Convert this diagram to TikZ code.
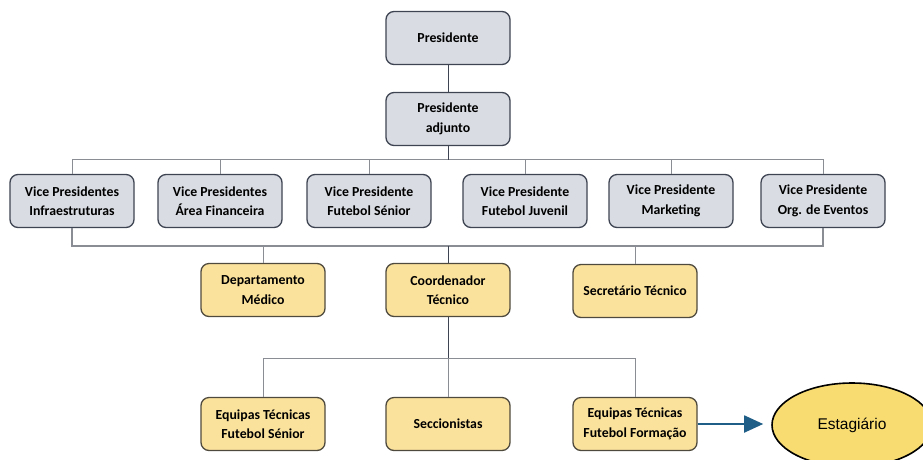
\documentclass[tikz,border=0pt]{standalone}
\usepackage{fontspec}
\setmainfont{Carlito}
\newfontfamily\arialfont{Liberation Sans}
\usetikzlibrary{positioning,shapes.geometric,arrows.meta}
\definecolor{boxgray}{HTML}{D9DCE2}
\definecolor{boxyellow}{HTML}{FBE29C}
\definecolor{edgegray}{HTML}{3E4452}
\definecolor{edgebrown}{HTML}{4F4A3E}
\definecolor{linegray}{HTML}{8A8D94}
\definecolor{linedark}{HTML}{3E4452}
\definecolor{arrowblue}{HTML}{1F5E86}
\definecolor{ovalyellow}{HTML}{F8DC72}
\tikzstyle{unit}                 = [draw=edgegray,fill=boxgray,rounded corners=8pt,
                                    line width=1.3pt,minimum width=124pt,minimum height=53pt,
                                    align=center,inner sep=0pt,
                                    font=\bfseries\fontsize{13.8}{19.5}\selectfont]
\tikzstyle{staff}                = [unit,draw=edgebrown,fill=boxyellow]
\tikzstyle{link}                 = [draw=linegray,line width=0.9pt]
\tikzstyle{trunk}                = [draw=linedark,line width=0.9pt]
\tikzset{intern/.style={ellipse,draw=black,fill=ovalyellow,line width=1.6pt,
                        minimum width=160pt,minimum height=84pt,inner sep=0pt,
                        font=\arialfont\fontsize{15.5}{18}\selectfont}
}

\begin{document}
\begin{tikzpicture}[x=1pt,y=-1pt]
        \useasboundingbox (0,0) rectangle (923,459);

        % Top
        \node[unit] (pres) at (448,38)  {Presidente};
        \node[unit] (adj)  at (448,119) {Presidente\\adjunto};

        % Vice presidents
        \node[unit] (vp1) at (72,201)  {Vice Presidentes\\Infraestruturas};
        \node[unit] (vp2) at (220,201) {Vice Presidentes\\Área Financeira};
        \node[unit] (vp3) at (369,201) {Vice Presidente\\Futebol Sénior};
        \node[unit] (vp4) at (525,201) {Vice Presidente\\Futebol Juvenil};
        \node[unit] (vp5) at (671,201) {Vice Presidente\\Marketing};
        \node[unit] (vp6) at (823,201) {Vice Presidente\\Org. de Eventos};

        % Staff
        \node[staff] (med)   at (263,290) {Departamento\\Médico};
        \node[staff] (coord) at (448,290) {Coordenador\\Técnico};
        \node[staff] (sec)   at (635,291) {Secretário Técnico};

        % Teams
        \node[staff] (sen)  at (263,424) {Equipas Técnicas\\Futebol Sénior};
        \node[staff] (secc) at (448,424) {Seccionistas};
        \node[staff] (form) at (635,424) {Equipas Técnicas\\Futebol Formação};
        \node[intern] (est) at (852,425) {Estagiário};

        % Connectors
        \draw[trunk] (pres) -- (adj);
        \draw[link] (vp1.north) -- ++(0,-14) coordinate (t1) -| (vp6.north);
        \foreach \n in {vp2,vp3,vp4,vp5}
            \draw[link] (\n.north) -- (\n.north |- t1);
        \draw[trunk] (adj.south) -- (adj.south |- t1);

        \draw[link,line width=1.4pt] (vp1.south) -- ++(0,18) coordinate (b1) -| (vp6.south);
        \draw[link] (med.north) -- (med.north |- b1);
        \draw[link] (sec.north) -- (sec.north |- b1);
        \draw[trunk] (coord.north) -- (coord.north |- b1);

        \draw[trunk] (coord.south) -- ++(0,41) coordinate (c1);
        \draw[link] (sen.north) |- (c1) -| (form.north);
        \draw[link] (secc.north) -- (c1);

        \draw[-{Triangle[length=19pt,width=17pt]},line width=1.8pt,arrowblue,shorten >=8pt]
              (form.east) -- (form.east -| est.west);
    \end{tikzpicture}
\end{document}
